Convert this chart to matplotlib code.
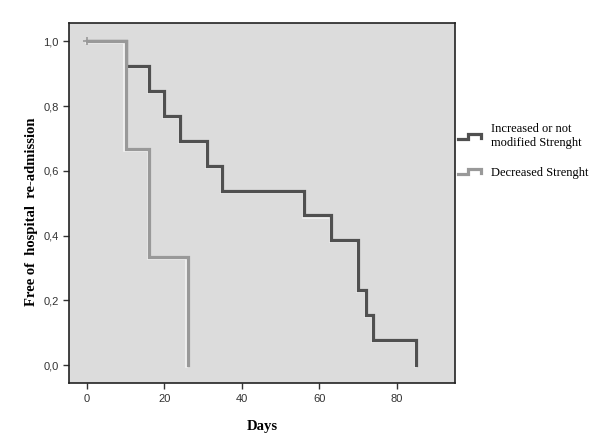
import matplotlib
matplotlib.use("Agg")
import matplotlib.pyplot as plt
import matplotlib.patheffects as pe
from matplotlib.legend_handler import HandlerBase
from matplotlib.lines import Line2D
from matplotlib.ticker import FuncFormatter

# Data (Kaplan-Meier step curves)
days_increased = [0, 10, 16, 20, 24, 31, 35, 56, 63, 70, 72, 74, 85]
surv_increased = [1.0, 0.923, 0.846, 0.769, 0.692, 0.615, 0.538, 0.462, 0.385, 0.231, 0.154, 0.077, 0.0]
days_decreased = [0, 10, 16, 26]
surv_decreased = [1.0, 0.667, 0.333, 0.0]
censor_days = [0]
censor_surv = [1.0]
labels = ["Increased or not\nmodified Strenght", "Decreased Strenght"]
x_ticks = [0, 20, 40, 60, 80]
y_ticks = [0.0, 0.2, 0.4, 0.6, 0.8, 1.0]

dark = "#505050"
light = "#999999"
lw = 2.3
effects = [pe.Stroke(linewidth=lw * 0.8, foreground="#f4f4f4", offset=(-0.8, -0.8)), pe.Normal()]

fig = plt.figure(figsize=(6.16, 4.45), dpi=100)
ax = fig.add_axes([0.112, 0.139, 0.627, 0.809])
ax.set_facecolor("#dcdcdc")

l1, = ax.step(days_increased, surv_increased, where="post", color=dark, lw=lw,
              path_effects=effects, solid_joinstyle="miter", zorder=3)
l2, = ax.step(days_decreased, surv_decreased, where="post", color=light, lw=lw,
              path_effects=effects, solid_joinstyle="miter", zorder=4)
ax.plot(censor_days, censor_surv, linestyle="none", marker="+", color=light,
        markersize=6, mew=1.2, zorder=5)

ax.set_xlim(-4.6, 95.1)
ax.set_ylim(-0.056, 1.056)
ax.set_xticks(x_ticks)
ax.set_yticks(y_ticks)
ax.yaxis.set_major_formatter(FuncFormatter(lambda v, p: f"{v:.1f}".replace(".", ",")))
ax.xaxis.set_major_formatter(FuncFormatter(lambda v, p: f"{v:.0f}"))
ax.tick_params(direction="out", length=4, width=1, color="#333333",
               labelsize=8, labelcolor="#333333", top=False, right=False)
for lab in ax.get_xticklabels() + ax.get_yticklabels():
    lab.set_family("Liberation Sans")
for s in ax.spines.values():
    s.set_linewidth(1.2)
    s.set_color("#222222")

serif = "Liberation Serif"
ax.set_xlabel("Days", fontfamily=serif, fontweight="bold", fontsize=10.5, labelpad=12)
ax.set_ylabel("Free of  hospital  re-admission", fontfamily=serif, fontweight="bold",
              fontsize=10.5)
ax.yaxis.set_label_coords(-0.081, 0.475)


class StepHandler(HandlerBase):
    def create_artists(self, legend, orig_handle, xdescent, ydescent, width, height,
                       fontsize, trans):
        x0, y0 = -xdescent, -ydescent
        xs = [x0, x0 + 0.45 * width, x0 + 0.45 * width, x0 + width, x0 + width]
        ys = [y0 + 0.15 * height, y0 + 0.15 * height, y0 + 0.75 * height,
              y0 + 0.75 * height, y0 + 0.3 * height]
        ln = Line2D(xs, ys, color=orig_handle.get_color(), lw=lw,
                    solid_joinstyle="miter", transform=trans)
        return [ln]


leg = ax.legend([l1, l2], labels, handler_map={Line2D: StepHandler()},
                loc="upper left", bbox_to_anchor=(0.995, 0.737), frameon=False,
                prop={"family": serif, "size": 9}, handlelength=1.8,
                handletextpad=0.85, labelspacing=1.45, borderaxespad=0)

fig.savefig("out.png", dpi=100)
